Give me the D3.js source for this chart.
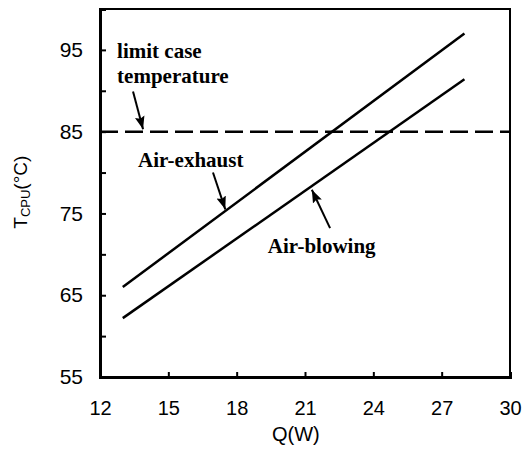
<!DOCTYPE html>
<html>
<head>
<meta charset="utf-8">
<script src="https://cdn.jsdelivr.net/npm/d3@7"></script>
<style>
  body { margin: 0; background: #fff; }
  .tick text { font-family: "Liberation Sans", Arial, sans-serif; font-size: 20px; fill: #000; }
  .axis-label { font-family: "Liberation Sans", Arial, sans-serif; font-size: 20px; fill: #000; }
  .note { font-family: "Liberation Serif", "Times New Roman", serif; font-size: 21px; font-weight: bold; fill: #000; }
</style>
</head>
<body>
<svg width="522" height="451"></svg>
<script>
// values
const qValues = [13, 28];
const airExhaust = [66, 97];
const airBlowing = [62.2, 91.4];
const limitTemp = 85;
const xTicks = [12, 15, 18, 21, 24, 27, 30];
const yTicks = [55, 65, 75, 85, 95];
const yMinor = [60, 70, 80, 90];

const margin = { left: 100, right: 12, top: 9, bottom: 74 };
const svg = d3.select('svg');
const width = +svg.attr('width');
const height = +svg.attr('height');
const innerWidth = width - margin.left - margin.right;
const innerHeight = height - margin.top - margin.bottom;

const g = svg.append('g')
    .attr('transform', `translate(${margin.left},${margin.top})`);

const xScale = d3.scaleLinear().domain([12, 30]).range([0, innerWidth]);
const yScale = d3.scaleLinear().domain([55, 100]).range([innerHeight, 0]);

// frame
g.append('rect')
    .attr('width', innerWidth)
    .attr('height', innerHeight)
    .attr('fill', 'none')
    .attr('stroke', '#000')
    .attr('stroke-width', 2);

const xAxis = d3.axisBottom(xScale)
    .tickValues(xTicks)
    .tickFormat(d3.format('d'))
    .tickSize(-5)
    .tickPadding(24);
const xAxisG = g.append('g')
    .attr('transform', `translate(0,${innerHeight})`)
    .call(xAxis);
xAxisG.select('.domain').attr('stroke-width', 3);
xAxisG.selectAll('.tick line').attr('stroke-width', 2);
xAxisG.selectAll('.tick').filter(d => d === 12 || d === 30).select('line').remove();

const yAxis = d3.axisLeft(yScale)
    .tickValues(yTicks)
    .tickFormat(d3.format('d'))
    .tickSize(-6)
    .tickPadding(17);
const yAxisG = g.append('g').call(yAxis);
yAxisG.select('.domain').attr('stroke-width', 3);
yAxisG.selectAll('.tick line').attr('stroke-width', 2);
yAxisG.selectAll('.tick text').style('font-size', '21px');

const yAxisMinor = d3.axisLeft(yScale).tickValues(yMinor).tickSize(-6).tickFormat('');
const yMinorG = g.append('g').call(yAxisMinor);
yMinorG.select('.domain').remove();
yMinorG.selectAll('.tick line').attr('stroke-width', 2);

// axis titles
xAxisG.append('text')
    .attr('class', 'axis-label')
    .attr('x', xScale(20.6))
    .attr('y', 64)
    .attr('text-anchor', 'middle')
    .text('Q(W)');

const yl = svg.append('text')
    .attr('class', 'axis-label')
    .style('font-size', '19px')
    .attr('transform', `translate(27,${margin.top + yScale(77.6)}) rotate(-90)`)
    .attr('text-anchor', 'middle');
yl.append('tspan').text('T');
yl.append('tspan').attr('font-size', 13).attr('dy', 3).text('CPU');
yl.append('tspan').attr('dy', -3).text('(°C)');

// limit line
g.append('line')
    .attr('x1', xScale(12)).attr('x2', xScale(30))
    .attr('y1', yScale(limitTemp)).attr('y2', yScale(limitTemp))
    .attr('stroke', '#000')
    .attr('stroke-width', 2.5)
    .attr('stroke-dasharray', '18 7');

const line = d3.line()
    .x((d, i) => xScale(qValues[i]))
    .y(d => yScale(d));

[airExhaust, airBlowing].forEach(s => {
    g.append('path')
        .attr('fill', 'none')
        .attr('stroke', '#000')
        .attr('stroke-width', 2.5)
        .attr('d', line(s));
});

// arrowheads
svg.append('defs').append('marker')
    .attr('id', 'ah')
    .attr('viewBox', '0 0 12 12')
    .attr('refX', 12).attr('refY', 6)
    .attr('markerWidth', 13).attr('markerHeight', 13)
    .attr('markerUnits', 'userSpaceOnUse')
    .attr('orient', 'auto')
    .append('path')
    .attr('d', 'M0,1.5 L12,6 L0,10.5 L2,6 z')
    .attr('fill', '#000');

const arrow = (q1, t1, q2, t2) => {
    g.append('line')
        .attr('x1', xScale(q1)).attr('y1', yScale(t1))
        .attr('x2', xScale(q2)).attr('y2', yScale(t2))
        .attr('stroke', '#000')
        .attr('stroke-width', 2)
        .attr('marker-end', 'url(#ah)');
};
arrow(13.45, 89.9, 13.89, 85.3);
arrow(16.96, 80.0, 17.5, 75.5);
arrow(22.1, 73.2, 21.3, 77.9);

// annotations
const note = (q, t, txt) => g.append('text')
    .attr('class', 'note')
    .attr('x', xScale(q))
    .attr('y', yScale(t))
    .text(txt);
note(12.75, 94.0, 'limit case');
note(12.75, 90.9, 'temperature');
note(13.67, 80.7, 'Air-exhaust');
note(19.37, 70.2, 'Air-blowing');
</script>
</body>
</html>
